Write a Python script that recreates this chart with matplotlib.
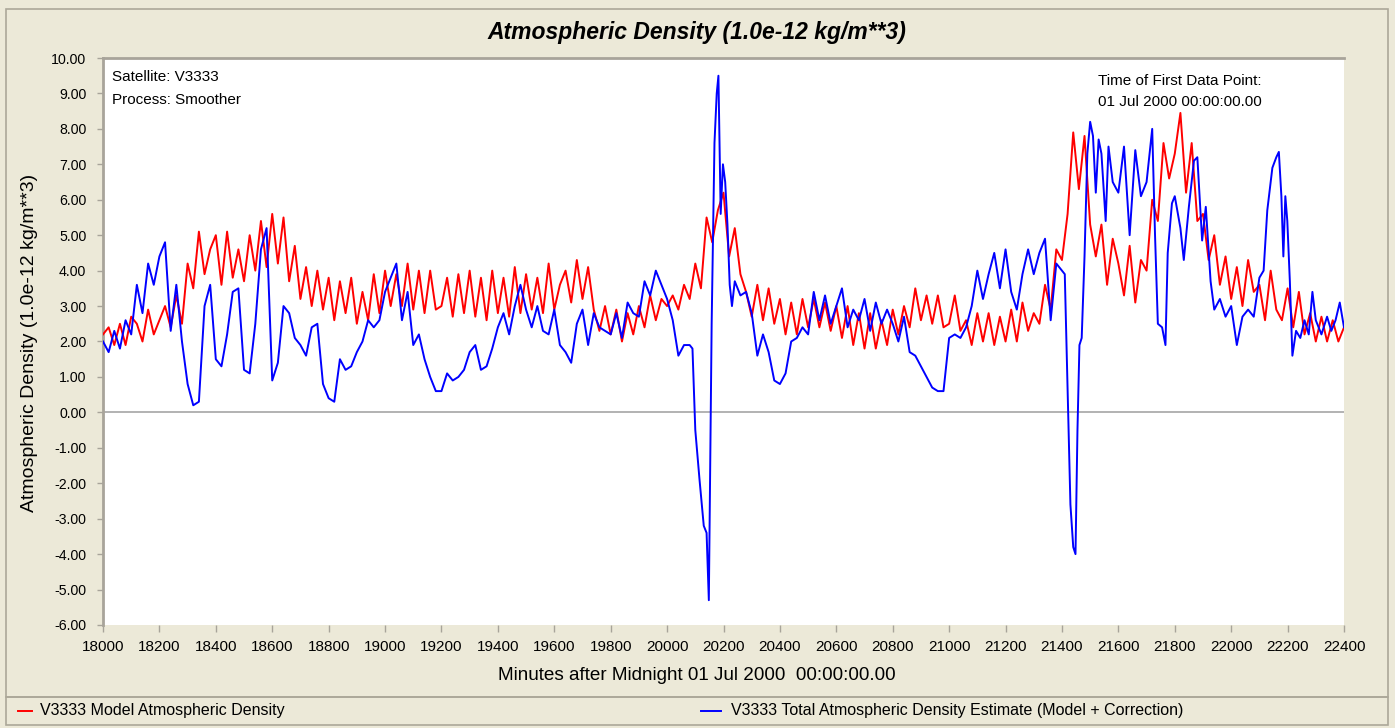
import matplotlib
matplotlib.use("Agg")
import matplotlib.pyplot as plt
from matplotlib.patches import Rectangle
from matplotlib.lines import Line2D
from matplotlib.ticker import FormatStrFormatter

plt.rcParams['font.family'] = ['Liberation Sans', 'DejaVu Sans']
plt.rcParams['axes.unicode_minus'] = False

# ---- data ----
# model density: one value every 20 minutes, 18000 .. 22400
model_minutes = list(range(18000, 22401, 20))
model_density = [
    2.2, 2.4, 1.9, 2.5, 1.9, 2.7, 2.5, 2.0, 2.9, 2.2,   # 18000
    2.6, 3.0, 2.4, 3.3, 2.5, 4.2, 3.5, 5.1, 3.9, 4.6,   # 18200
    5.0, 3.6, 5.1, 3.8, 4.6, 3.7, 5.0, 4.0, 5.4, 4.1,   # 18400
    5.6, 4.2, 5.5, 3.7, 4.7, 3.2, 4.1, 3.0, 4.0, 2.9,   # 18600
    3.8, 2.6, 3.7, 2.8, 3.8, 2.5, 3.4, 2.6, 3.9, 2.8,   # 18800
    4.0, 3.0, 3.9, 3.0, 4.2, 2.9, 4.0, 2.8, 4.0, 2.9,   # 19000
    3.0, 3.8, 2.7, 3.9, 2.8, 4.0, 2.7, 3.8, 2.6, 4.0,   # 19200
    2.8, 3.8, 2.7, 4.1, 2.8, 3.9, 2.9, 3.8, 2.8, 4.2,   # 19400
    2.9, 3.6, 4.0, 3.1, 4.3, 3.2, 4.1, 2.9, 2.3, 3.0,   # 19600
    2.2, 2.9, 2.0, 2.8, 2.2, 3.0, 2.4, 3.3, 2.6, 3.2,   # 19800
    3.0, 3.3, 2.9, 3.6, 3.2, 4.2, 3.5, 5.5, 4.8, 5.7,   # 20000
    6.2, 4.4, 5.2, 3.9, 3.4, 2.7, 3.6, 2.6, 3.5, 2.5,   # 20200
    3.2, 2.2, 3.1, 2.2, 3.2, 2.4, 3.2, 2.4, 3.1, 2.3,   # 20400
    3.0, 2.1, 3.0, 1.9, 2.8, 1.8, 2.8, 1.8, 2.6, 1.9,   # 20600
    2.9, 2.2, 3.0, 2.4, 3.5, 2.6, 3.3, 2.5, 3.3, 2.4,   # 20800
    2.5, 3.3, 2.3, 2.6, 1.9, 2.8, 2.0, 2.8, 1.9, 2.7,   # 21000
    2.0, 2.9, 2.0, 3.1, 2.3, 2.8, 2.5, 3.6, 2.9, 4.6,   # 21200
    4.3, 5.6, 7.9, 6.3, 7.8, 5.3, 4.4, 5.3, 3.6, 4.9,   # 21400
    4.2, 3.3, 4.7, 3.1, 4.3, 4.0, 6.0, 5.4, 7.6, 6.6,   # 21600
    7.3, 8.45, 6.2, 7.6, 5.4, 5.6, 4.3, 5.0, 3.6, 4.4,  # 21800
    3.2, 4.1, 3.0, 4.3, 3.4, 3.6, 2.6, 4.0, 2.9, 2.6,   # 22000
    3.5, 2.4, 3.4, 2.2, 2.8, 2.0, 2.7, 2.0, 2.6, 2.0, 2.4,  # 22200 .. 22400
]

# total estimate (model + correction): 20-minute steps, finer around the two storms
total_minutes = (
    list(range(18000, 20081, 20))
    + [20090, 20100, 20115, 20130, 20140, 20148, 20158, 20168, 20176, 20182,
       20190, 20198, 20206, 20214, 20222, 20230, 20240]
    + list(range(20260, 21401, 20))
    + [21410, 21420, 21430, 21440, 21448, 21455, 21462, 21470, 21480, 21490,
       21500, 21510, 21520, 21530, 21540, 21555, 21565, 21580]
    + list(range(21600, 21721, 20))
    + [21730, 21740, 21755, 21767, 21775, 21790, 21800, 21820, 21832, 21850,
       21868, 21880, 21897, 21910, 21927, 21940, 21960, 21980, 22000, 22020,
       22040, 22060, 22080, 22100, 22115, 22128, 22146, 22160, 22169, 22178,
       22185, 22192, 22199, 22208, 22217, 22230, 22245, 22260, 22275, 22288,
       22300, 22320, 22340, 22355, 22370, 22385, 22400]
)
total_density = [
    2.0, 1.7, 2.3, 1.8, 2.6, 2.2, 3.6, 2.8, 4.2, 3.6,   # 18000
    4.4, 4.8, 2.3, 3.6, 2.0, 0.8, 0.2, 0.3, 3.0, 3.6,   # 18200
    1.5, 1.3, 2.2, 3.4, 3.5, 1.2, 1.1, 2.5, 4.6, 5.2,   # 18400
    0.9, 1.4, 3.0, 2.8, 2.1, 1.9, 1.6, 2.4, 2.5, 0.8,   # 18600
    0.4, 0.3, 1.5, 1.2, 1.3, 1.7, 2.0, 2.6, 2.4, 2.6,   # 18800
    3.4, 3.8, 4.2, 2.6, 3.4, 1.9, 2.2, 1.5, 1.0, 0.6,   # 19000
    0.6, 1.1, 0.9, 1.0, 1.2, 1.7, 1.9, 1.2, 1.3, 1.8,   # 19200
    2.4, 2.8, 2.2, 3.0, 3.6, 2.9, 2.4, 3.0, 2.3, 2.2,   # 19400
    2.9, 1.9, 1.7, 1.4, 2.5, 2.9, 1.9, 2.8, 2.4, 2.3,   # 19600
    2.2, 2.8, 2.1, 3.1, 2.8, 2.7, 3.7, 3.3, 4.0, 3.6,   # 19800
    3.2, 2.6, 1.6, 1.9, 1.9,                            # 20000 .. 20080
    1.8, -0.5, -1.9, -3.2, -3.4, -5.3, 2.5, 7.6, 9.0, 9.5,
    5.6, 7.0, 6.5, 5.3, 3.6, 3.0, 3.7,
    3.3, 3.4, 2.8, 1.6, 2.2, 1.7, 0.9,                  # 20260 .. 20380
    0.8, 1.1, 2.0, 2.1, 2.4, 2.2, 3.4, 2.6, 3.3, 2.5,   # 20400
    3.0, 3.5, 2.4, 2.9, 2.6, 3.2, 2.3, 3.1, 2.5, 2.9,   # 20600
    2.5, 2.0, 2.7, 1.7, 1.6, 1.3, 1.0, 0.7, 0.6, 0.6,   # 20800
    2.1, 2.2, 2.1, 2.4, 3.0, 4.0, 3.2, 3.9, 4.5, 3.5,   # 21000
    4.6, 3.4, 2.9, 3.9, 4.6, 3.9, 4.5, 4.9, 2.6, 4.2,   # 21200
    4.0,                                                # 21400
    3.9, 0.6, -2.6, -3.8, -4.0, -0.5, 1.9, 2.1, 4.4, 7.3,
    8.2, 7.8, 6.2, 7.7, 7.3, 5.4, 7.5, 6.5,
    6.2, 7.5, 5.0, 7.4, 6.1, 6.5, 8.0,                  # 21600 .. 21720
    5.0, 2.5, 2.4, 1.9, 4.5, 5.9, 6.1, 5.2, 4.3, 5.8,
    7.1, 7.2, 4.85, 5.8, 3.7, 2.9, 3.2, 2.7, 3.0, 1.9,
    2.7, 2.9, 2.7, 3.8, 4.0, 5.7, 6.9, 7.2, 7.35, 6.1,
    4.4, 6.1, 5.4, 3.7, 1.6, 2.3, 2.1, 2.6, 2.2, 3.4,
    2.6, 2.2, 2.7, 2.3, 2.6, 3.1, 2.4,
]

y_ticks = [-6, -5, -4, -3, -2, -1, 0, 1, 2, 3, 4, 5, 6, 7, 8, 9, 10]
x_ticks = list(range(18000, 22401, 200))

# ---- figure ----
W, H = 1395, 728
bg = '#ECE9D8'
frame_col = '#ACA899'
fig = plt.figure(figsize=(W / 100, H / 100), dpi=100, facecolor=bg)


def fx(px):
    return px / W


def fy(py):
    return 1 - py / H


# outer panel and legend strip
fig.add_artist(Rectangle((fx(6), fy(697)), fx(1388) - fx(6), fy(9) - fy(697),
                         transform=fig.transFigure, facecolor='none',
                         edgecolor=frame_col, lw=1.2))
fig.add_artist(Rectangle((fx(6), fy(725)), fx(1388) - fx(6), fy(697) - fy(725),
                         transform=fig.transFigure, facecolor='none',
                         edgecolor=frame_col, lw=1.2))

ax = fig.add_axes([fx(103), fy(625), fx(1344) - fx(103), fy(58) - fy(625)])
ax.set_facecolor('white')

ax.plot(model_minutes, model_density, color='#FF0000', lw=1.4, zorder=3)
ax.plot(total_minutes, total_density, color='#0000FF', lw=1.4, zorder=4)
ax.axhline(0, color='#A5A5A5', lw=1.2, zorder=2)

ax.set_xlim(18000, 22400)
ax.set_ylim(-6, 10)
ax.set_xticks(x_ticks)
ax.set_yticks(y_ticks)
ax.yaxis.set_major_formatter(FormatStrFormatter('%.2f'))

for side in ['right', 'bottom']:
    ax.spines[side].set_visible(False)
for side in ['top', 'left']:
    ax.spines[side].set_color('#A8A49A')
    ax.spines[side].set_linewidth(2)

ax.tick_params(axis='x', direction='out', length=5, width=1, color='#A8A49A',
               labelsize=11, pad=6)
ax.tick_params(axis='y', direction='out', length=4, width=1, color='#A8A49A',
               labelsize=10.2, pad=8)

# titles and axis labels
fig.text(fx(697), fy(32), 'Atmospheric Density (1.0e-12 kg/m**3)', ha='center',
         va='center', fontsize=16.5, fontweight='bold', fontstyle='italic')
fig.text(fx(30), fy(343), 'Atmospheric Density (1.0e-12 kg/m**3)', ha='center',
         va='center', rotation=90, fontsize=14)
fig.text(fx(697), fy(676), 'Minutes after Midnight 01 Jul 2000  00:00:00.00',
         ha='center', va='center', fontsize=13.6)

# notes inside the plot
fig.text(fx(112), fy(77), 'Satellite: V3333', ha='left', va='center', fontsize=11)
fig.text(fx(112), fy(100), 'Process: Smoother', ha='left', va='center', fontsize=11)
fig.text(fx(1098), fy(81), 'Time of First Data Point:', ha='left', va='center', fontsize=11)
fig.text(fx(1098), fy(102), '01 Jul 2000 00:00:00.00', ha='left', va='center', fontsize=11)

# legend strip
fig.add_artist(Line2D([fx(18), fx(32)], [fy(711), fy(711)], color='#FF0000', lw=1.4,
                      transform=fig.transFigure))
fig.text(fx(40), fy(711), 'V3333 Model Atmospheric Density', ha='left', va='center',
         fontsize=11.5)
fig.add_artist(Line2D([fx(701), fx(721)], [fy(711), fy(711)], color='#0000FF', lw=1.4,
                      transform=fig.transFigure))
fig.text(fx(731), fy(711), 'V3333 Total Atmospheric Density Estimate (Model + Correction)',
         ha='left', va='center', fontsize=11.5)

fig.savefig('out.png', dpi=100, facecolor=bg)
